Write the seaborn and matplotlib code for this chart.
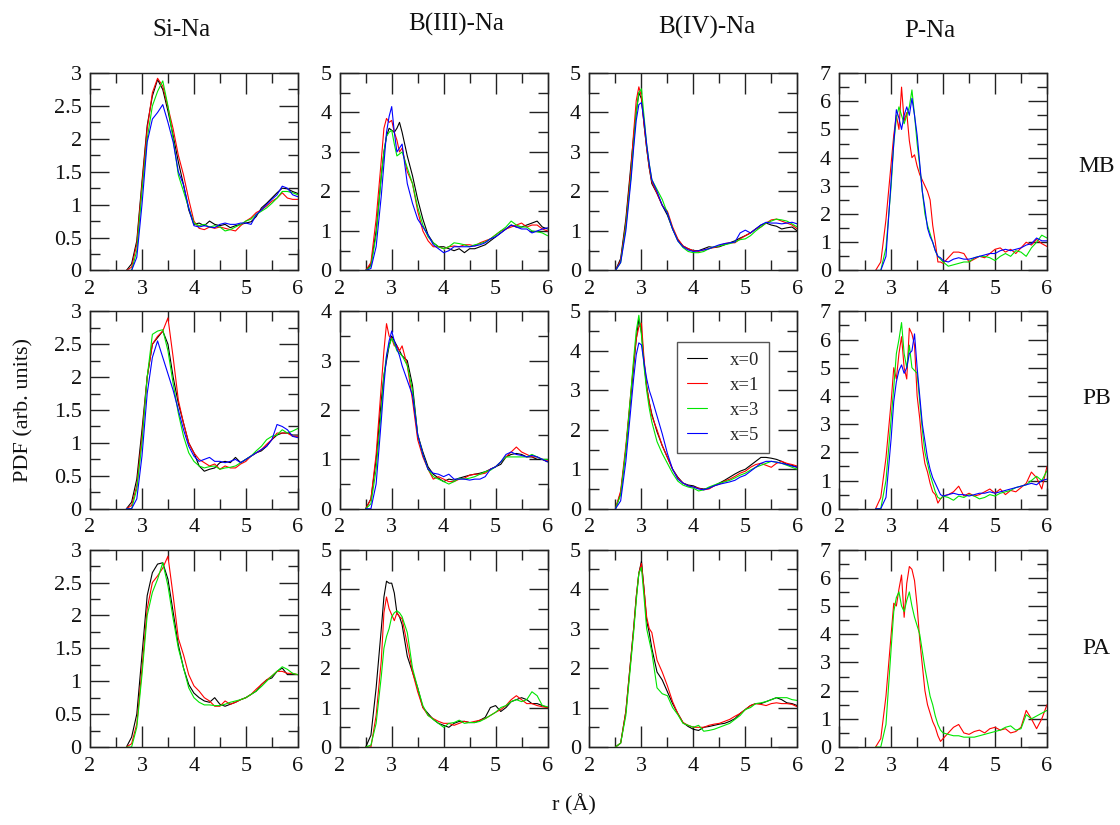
import numpy as np
import pandas as pd
import matplotlib
matplotlib.use("Agg")
import matplotlib.pyplot as plt
import seaborn as sns
from matplotlib.ticker import MultipleLocator, FuncFormatter

# ---------------- data ----------------
series_labels = ["x=0", "x=1", "x=3", "x=5"]
series_colors = ["#000000", "#ff0000", "#00e600", "#0000ff"]
col_titles = ["Si-Na", "B(III)-Na", "B(IV)-Na", "P-Na"]
row_labels = ["MB", "PB", "PA"]
x_ticks = [2, 3, 4, 5, 6]

r_si = [2.7, 2.8, 2.9, 3.0, 3.1, 3.2, 3.3, 3.4, 3.5, 3.6, 3.7, 3.8, 3.9, 4.0, 4.1, 4.2, 4.3,
        4.4, 4.5, 4.6, 4.7, 4.8, 4.9, 5.0, 5.1, 5.2, 5.3, 5.4, 5.5, 5.6, 5.7, 5.8, 5.9, 6.0]
r_b = [2.5, 2.6, 2.7, 2.8, 2.85, 2.9, 2.95, 3.0, 3.05, 3.1, 3.15, 3.2, 3.3, 3.4, 3.5, 3.6,
       3.7, 3.8, 3.9, 4.0, 4.1, 4.2, 4.3, 4.4, 4.5, 4.6, 4.7, 4.8, 4.9, 5.0, 5.1, 5.2, 5.3,
       5.4, 5.5, 5.6, 5.7, 5.8, 5.9, 6.0]
r_p = [2.7, 2.8, 2.9, 3.0, 3.05, 3.1, 3.15, 3.2, 3.25, 3.3, 3.35, 3.4, 3.45, 3.5, 3.55, 3.6,
       3.65, 3.7, 3.75, 3.8, 3.85, 3.9, 3.95, 4.0, 4.1, 4.2, 4.3, 4.4, 4.5, 4.6, 4.7, 4.8,
       4.9, 5.0, 5.1, 5.2, 5.3, 5.4, 5.5, 5.6, 5.7, 5.8, 5.9, 6.0]

# ---- MB ----
mb_si_x0 = [0, 0.1, 0.45, 1.35, 2.2, 2.65, 2.9, 2.75, 2.42, 2.05, 1.65, 1.3, 0.92, 0.7, 0.72, 0.68, 0.75,
            0.7, 0.68, 0.7, 0.65, 0.68, 0.7, 0.72, 0.74, 0.82, 0.95, 1.02, 1.1, 1.18, 1.25, 1.24, 1.2, 1.17]
mb_si_x1 = [0, 0.05, 0.4, 1.3, 2.15, 2.7, 2.92, 2.8, 2.48, 2.15, 1.75, 1.45, 1.08, 0.75, 0.64, 0.62, 0.66,
            0.64, 0.66, 0.64, 0.62, 0.6, 0.68, 0.75, 0.8, 0.88, 0.92, 0.98, 1.05, 1.1, 1.18, 1.1, 1.08, 1.08]
mb_si_x3 = [0, 0.0, 0.3, 1.2, 2.0, 2.5, 2.72, 2.88, 2.5, 2.0, 1.45, 1.2, 0.95, 0.72, 0.68, 0.7, 0.66,
            0.68, 0.66, 0.6, 0.62, 0.66, 0.7, 0.75, 0.78, 0.85, 0.9, 0.95, 1.02, 1.1, 1.2, 1.2, 1.18, 1.15]
mb_si_x5 = [0, 0.0, 0.2, 1.0, 1.95, 2.3, 2.4, 2.52, 2.25, 1.95, 1.5, 1.3, 0.95, 0.68, 0.66, 0.68, 0.66,
            0.65, 0.7, 0.72, 0.7, 0.7, 0.72, 0.72, 0.7, 0.85, 0.92, 1.0, 1.08, 1.15, 1.28, 1.25, 1.15, 1.12]

mb_b3_x0 = [0, 0.15, 1.0, 2.4, 3.0, 3.4, 3.6, 3.55, 3.5, 3.6, 3.75, 3.5, 2.9, 2.4, 1.8, 1.3, 0.9, 0.7, 0.6,
            0.6, 0.55, 0.5, 0.55, 0.45, 0.55, 0.55, 0.6, 0.65, 0.75, 0.85, 0.95, 1.05, 1.15, 1.1, 1.1, 1.15,
            1.2, 1.25, 1.1, 1.05]
mb_b3_x1 = [0, 0.2, 1.3, 2.8, 3.6, 3.85, 3.75, 3.8, 3.5, 3.3, 3.0, 3.1, 2.5, 2.2, 1.5, 1.0, 0.75, 0.6, 0.6,
            0.55, 0.6, 0.62, 0.6, 0.65, 0.65, 0.62, 0.7, 0.75, 0.8, 0.9, 1.0, 1.05, 1.1, 1.15, 1.2, 1.1,
            1.15, 1.15, 1.05, 1.0]
mb_b3_x3 = [0, 0.1, 0.9, 2.4, 3.0, 3.4, 3.5, 3.55, 3.2, 2.9, 2.95, 3.0, 2.6, 2.2, 1.6, 1.15, 0.85, 0.7, 0.6,
            0.55, 0.6, 0.7, 0.68, 0.65, 0.6, 0.65, 0.68, 0.72, 0.8, 0.9, 1.0, 1.1, 1.25, 1.15, 1.1, 1.1,
            1.0, 0.98, 0.95, 0.88]
mb_b3_x5 = [0, 0.05, 0.6, 1.9, 2.7, 3.5, 3.9, 4.15, 3.5, 3.0, 3.1, 3.2, 2.2, 1.7, 1.3, 1.1, 0.9, 0.65, 0.55,
            0.45, 0.5, 0.6, 0.6, 0.6, 0.6, 0.62, 0.65, 0.7, 0.8, 0.85, 0.95, 1.05, 1.15, 1.1, 1.05, 1.05,
            0.95, 1.0, 1.05, 1.08]

mb_b4_x0 = [0, 0.3, 1.3, 2.7, 3.4, 4.0, 4.5, 4.35, 3.7, 3.1, 2.6, 2.2, 1.95, 1.65, 1.4, 1.05, 0.78, 0.62,
            0.55, 0.5, 0.5, 0.55, 0.6, 0.58, 0.6, 0.65, 0.7, 0.75, 0.82, 0.88, 0.95, 1.05, 1.15, 1.2, 1.15,
            1.12, 1.05, 1.08, 1.1, 1.0]
mb_b4_x1 = [0, 0.25, 1.2, 2.6, 3.5, 4.3, 4.65, 4.4, 3.7, 3.1, 2.6, 2.25, 1.95, 1.65, 1.5, 1.1, 0.8, 0.62,
            0.55, 0.5, 0.48, 0.52, 0.55, 0.58, 0.62, 0.68, 0.7, 0.7, 0.8, 0.88, 0.95, 1.05, 1.1, 1.2, 1.28,
            1.3, 1.25, 1.2, 1.15, 1.05]
mb_b4_x3 = [0, 0.2, 1.1, 2.4, 3.2, 4.0, 4.5, 4.6, 3.9, 3.2, 2.7, 2.3, 2.05, 1.8, 1.45, 1.05, 0.75, 0.58,
            0.48, 0.45, 0.45, 0.48, 0.55, 0.6, 0.62, 0.65, 0.68, 0.72, 0.78, 0.8, 0.88, 1.0, 1.1, 1.2, 1.25,
            1.3, 1.28, 1.25, 1.18, 1.1]
mb_b4_x5 = [0, 0.2, 1.0, 2.3, 3.1, 3.8, 4.2, 4.25, 3.8, 3.2, 2.7, 2.3, 2.0, 1.65, 1.45, 1.05, 0.75, 0.6,
            0.52, 0.48, 0.5, 0.52, 0.55, 0.6, 0.65, 0.68, 0.7, 0.72, 0.95, 1.02, 0.95, 1.05, 1.15, 1.22,
            1.2, 1.2, 1.18, 1.2, 1.22, 1.18]

mb_p_x1 = [0, 0.3, 1.8, 3.8, 4.8, 5.5, 5.0, 6.5, 5.3, 5.6, 4.6, 4.0, 4.1, 3.7, 3.4, 3.2, 3.0, 2.8, 2.5, 1.6,
           1.0, 0.3, 0.3, 0.25, 0.45, 0.65, 0.65, 0.6, 0.3, 0.4, 0.5, 0.45, 0.6, 0.75, 0.8, 0.65, 0.75,
           0.6, 0.8, 1.0, 0.9, 1.1, 0.95, 0.85]
mb_p_x3 = [0, 0.0, 0.8, 3.0, 4.5, 5.4, 5.8, 5.5, 5.2, 5.5, 5.8, 6.4, 5.5, 4.5, 3.7, 2.8, 2.0, 1.6, 1.3, 1.0,
           0.7, 0.5, 0.4, 0.3, 0.15, 0.2, 0.25, 0.3, 0.3, 0.45, 0.5, 0.5, 0.45, 0.35, 0.5, 0.6, 0.5, 0.7,
           0.65, 0.5, 0.8, 1.0, 1.25, 1.15]
mb_p_x5 = [0, 0.0, 0.5, 3.2, 4.5, 5.7, 5.4, 5.0, 5.5, 5.8, 5.5, 6.1, 5.5, 4.8, 3.8, 2.8, 2.2, 1.5, 1.2, 1.0,
           0.7, 0.5, 0.45, 0.35, 0.3, 0.4, 0.45, 0.4, 0.4, 0.45, 0.5, 0.55, 0.6, 0.6, 0.7, 0.75, 0.7, 0.75,
           0.8, 0.9, 0.95, 1.15, 1.05, 1.05]

# ---- PB ----
pb_si_x0 = [0, 0.1, 0.45, 1.2, 2.0, 2.5, 2.6, 2.7, 2.5, 2.0, 1.6, 1.3, 1.0, 0.85, 0.65, 0.57, 0.6, 0.62,
            0.7, 0.72, 0.7, 0.78, 0.7, 0.75, 0.8, 0.85, 0.88, 0.95, 1.05, 1.12, 1.15, 1.15, 1.12, 1.12]
pb_si_x1 = [0, 0.05, 0.35, 1.1, 2.0, 2.5, 2.62, 2.7, 2.9, 2.3, 1.65, 1.3, 1.0, 0.85, 0.75, 0.7, 0.65, 0.68,
            0.6, 0.65, 0.62, 0.62, 0.68, 0.72, 0.8, 0.85, 0.9, 0.98, 1.05, 1.15, 1.15, 1.15, 1.1, 1.1]
pb_si_x3 = [0, 0.0, 0.3, 1.0, 2.0, 2.65, 2.7, 2.72, 2.4, 1.9, 1.45, 1.1, 0.85, 0.72, 0.65, 0.62, 0.64, 0.65,
            0.6, 0.62, 0.63, 0.65, 0.7, 0.75, 0.8, 0.88, 0.95, 1.05, 1.1, 1.12, 1.2, 1.15, 1.18, 1.22]
pb_si_x5 = [0, 0.0, 0.15, 0.8, 1.75, 2.3, 2.55, 2.3, 2.05, 1.8, 1.5, 1.2, 0.95, 0.8, 0.72, 0.75, 0.78, 0.72,
            0.72, 0.7, 0.72, 0.75, 0.7, 0.75, 0.8, 0.85, 0.9, 0.95, 1.05, 1.28, 1.25, 1.2, 1.1, 1.08]

pb_b3_x0 = [0, 0.2, 1.0, 2.2, 2.7, 3.0, 3.3, 3.5, 3.4, 3.3, 3.2, 3.1, 3.0, 2.5, 1.5, 1.15, 0.85, 0.7, 0.62,
            0.55, 0.6, 0.58, 0.62, 0.65, 0.68, 0.7, 0.72, 0.75, 0.8, 0.85, 0.9, 1.05, 1.1, 1.12, 1.1, 1.05,
            1.05, 1.0, 1.0, 0.95]
pb_b3_x1 = [0, 0.2, 1.1, 2.5, 3.2, 3.75, 3.5, 3.45, 3.3, 3.3, 3.2, 3.3, 2.9, 2.2, 1.4, 1.05, 0.8, 0.6, 0.65,
            0.6, 0.55, 0.55, 0.6, 0.62, 0.68, 0.7, 0.7, 0.72, 0.8, 0.85, 0.95, 1.05, 1.15, 1.25, 1.15, 1.1,
            1.05, 1.05, 1.0, 0.98]
pb_b3_x3 = [0, 0.1, 0.8, 2.0, 2.7, 3.1, 3.3, 3.45, 3.35, 3.2, 3.15, 3.1, 2.9, 2.4, 1.5, 1.1, 0.8, 0.65, 0.6,
            0.55, 0.5, 0.55, 0.62, 0.6, 0.62, 0.65, 0.7, 0.75, 0.78, 0.85, 0.95, 1.05, 1.05, 1.05, 1.05,
            1.05, 1.1, 1.05, 1.0, 1.0]
pb_b3_x5 = [0, 0.0, 0.5, 1.8, 2.5, 3.1, 3.4, 3.6, 3.4, 3.25, 3.1, 2.9, 2.6, 2.3, 1.5, 1.1, 0.8, 0.72, 0.7,
            0.65, 0.7, 0.6, 0.6, 0.6, 0.58, 0.6, 0.6, 0.65, 0.8, 0.85, 0.95, 1.1, 1.15, 1.1, 1.08, 1.05,
            1.08, 1.05, 1.0, 0.95]

pb_b4_x0 = [0, 0.4, 1.5, 2.9, 3.6, 4.3, 4.8, 4.5, 3.7, 3.1, 2.7, 2.4, 1.95, 1.6, 1.3, 1.0, 0.8, 0.65, 0.6,
            0.58, 0.52, 0.5, 0.52, 0.58, 0.65, 0.72, 0.8, 0.88, 0.95, 1.0, 1.1, 1.2, 1.3, 1.3, 1.28, 1.25,
            1.2, 1.12, 1.1, 1.05]
pb_b4_x1 = [0, 0.45, 1.6, 3.0, 3.7, 4.3, 4.6, 4.7, 3.8, 3.1, 2.7, 2.35, 2.0, 1.6, 1.3, 1.0, 0.78, 0.65, 0.58,
            0.55, 0.52, 0.48, 0.5, 0.58, 0.62, 0.7, 0.75, 0.82, 0.9, 0.95, 1.05, 1.12, 1.15, 1.1, 1.05,
            1.15, 1.2, 1.15, 1.12, 1.08]
pb_b4_x3 = [0, 0.35, 1.5, 3.0, 3.8, 4.5, 4.9, 4.4, 3.6, 3.0, 2.55, 2.2, 1.7, 1.4, 1.15, 0.9, 0.7, 0.6, 0.55,
            0.52, 0.45, 0.48, 0.55, 0.6, 0.65, 0.68, 0.72, 0.78, 0.85, 0.9, 0.98, 1.05, 1.1, 1.15, 1.2,
            1.18, 1.15, 1.1, 1.05, 1.0]
pb_b4_x5 = [0, 0.2, 1.2, 2.6, 3.3, 3.9, 4.2, 4.15, 3.7, 3.3, 3.0, 2.8, 2.35, 1.9, 1.4, 1.0, 0.75, 0.65,
            0.58, 0.55, 0.5, 0.48, 0.52, 0.58, 0.62, 0.65, 0.68, 0.72, 0.8, 0.85, 0.95, 1.05, 1.15, 1.2,
            1.2, 1.18, 1.15, 1.12, 1.08, 1.05]

pb_p_x1 = [0, 0.4, 1.8, 3.8, 5.0, 4.6, 5.5, 6.1, 5.0, 4.6, 6.4, 6.2, 5.8, 4.0, 3.2, 2.2, 1.6, 1.3, 0.9, 0.6,
           0.5, 0.2, 0.35, 0.45, 0.5, 0.6, 0.8, 0.45, 0.55, 0.45, 0.5, 0.6, 0.7, 0.55, 0.7, 0.5, 0.65,
           0.6, 0.75, 0.9, 1.3, 1.1, 0.7, 1.5]
pb_p_x3 = [0, 0.0, 1.0, 3.2, 4.3, 5.5, 6.0, 6.6, 5.5, 5.0, 5.8, 5.0, 4.9, 4.8, 3.8, 2.8, 2.0, 1.6, 1.2, 0.9,
           0.6, 0.4, 0.35, 0.45, 0.4, 0.3, 0.45, 0.4, 0.5, 0.45, 0.35, 0.4, 0.5, 0.45, 0.55, 0.6, 0.65,
           0.75, 0.8, 0.85, 1.0, 1.15, 1.0, 1.35]
pb_p_x5 = [0, 0.0, 0.4, 2.5, 3.8, 4.5, 4.9, 5.1, 4.8, 5.0, 5.5, 5.6, 6.2, 5.0, 4.0, 3.0, 2.4, 1.8, 1.4, 1.1,
           0.9, 0.7, 0.5, 0.45, 0.5, 0.55, 0.5, 0.5, 0.45, 0.5, 0.55, 0.55, 0.6, 0.55, 0.6, 0.65, 0.7,
           0.75, 0.8, 0.85, 0.9, 0.85, 1.0, 1.05]

# ---- PA ----
pa_si_x0 = [0, 0.15, 0.5, 1.4, 2.3, 2.65, 2.78, 2.8, 2.55, 2.05, 1.55, 1.2, 0.95, 0.82, 0.75, 0.7, 0.68, 0.75,
            0.65, 0.62, 0.65, 0.68, 0.72, 0.75, 0.8, 0.85, 0.95, 1.02, 1.05, 1.15, 1.2, 1.1, 1.1, 1.1]
pa_si_x1 = [0, 0.05, 0.35, 1.2, 2.1, 2.5, 2.6, 2.72, 2.9, 2.3, 1.65, 1.4, 1.1, 0.93, 0.85, 0.75, 0.7, 0.62,
            0.62, 0.7, 0.65, 0.68, 0.72, 0.75, 0.8, 0.88, 0.95, 1.02, 1.08, 1.15, 1.15, 1.12, 1.12, 1.1]
pa_si_x3 = [0, 0.0, 0.3, 1.1, 2.0, 2.35, 2.55, 2.8, 2.45, 1.95, 1.5, 1.2, 0.9, 0.75, 0.68, 0.64, 0.64, 0.63,
            0.63, 0.65, 0.68, 0.7, 0.72, 0.75, 0.8, 0.85, 0.92, 1.0, 1.08, 1.15, 1.22, 1.18, 1.12, 1.1]

pa_b3_x0 = [0, 0.3, 1.5, 3.0, 3.8, 4.2, 4.15, 4.15, 3.9, 3.4, 3.3, 3.1, 2.3, 1.9, 1.5, 1.0, 0.85, 0.7, 0.6,
            0.55, 0.5, 0.6, 0.65, 0.65, 0.62, 0.62, 0.68, 0.75, 1.0, 1.05, 0.9, 1.0, 1.15, 1.2, 1.25, 1.2,
            1.1, 1.1, 1.05, 1.0]
pa_b3_x1 = [0, 0.0, 0.8, 2.2, 3.4, 3.8, 3.5, 3.35, 3.2, 3.4, 3.3, 3.25, 2.6, 1.9, 1.4, 1.0, 0.8, 0.72, 0.65,
            0.6, 0.6, 0.55, 0.6, 0.65, 0.62, 0.65, 0.68, 0.72, 0.8, 0.88, 0.95, 1.05, 1.2, 1.3, 1.2, 1.1,
            1.1, 1.05, 1.02, 1.0]
pa_b3_x3 = [0, 0.05, 0.6, 1.8, 2.5, 2.8, 3.0, 3.3, 3.4, 3.45, 3.4, 3.3, 2.9, 2.0, 1.5, 1.05, 0.8, 0.7, 0.6,
            0.5, 0.6, 0.62, 0.68, 0.6, 0.62, 0.62, 0.65, 0.72, 0.8, 0.88, 1.0, 1.05, 1.15, 1.2, 1.15, 1.2,
            1.4, 1.3, 1.05, 1.02]

pa_b4_x0 = [0, 0.1, 0.9, 2.3, 3.0, 3.8, 4.4, 4.7, 4.0, 3.2, 2.9, 2.5, 1.9, 1.7, 1.4, 1.1, 0.85, 0.62, 0.52,
            0.45, 0.42, 0.5, 0.52, 0.55, 0.58, 0.6, 0.65, 0.72, 0.85, 0.95, 1.05, 1.1, 1.1, 1.15, 1.2, 1.25,
            1.2, 1.12, 1.1, 1.05]
pa_b4_x1 = [0, 0.1, 0.9, 2.3, 3.0, 3.8, 4.4, 4.65, 4.0, 3.3, 3.0, 2.9, 2.2, 1.9, 1.55, 1.15, 0.85, 0.62,
            0.55, 0.5, 0.5, 0.5, 0.55, 0.58, 0.6, 0.65, 0.7, 0.78, 0.85, 0.95, 1.05, 1.1, 1.08, 1.05, 1.1,
            1.12, 1.1, 1.1, 1.08, 1.02]
pa_b4_x3 = [0, 0.1, 0.8, 2.2, 2.9, 3.7, 4.4, 4.55, 3.8, 3.0, 2.7, 2.4, 1.5, 1.35, 1.3, 1.0, 0.82, 0.6, 0.55,
            0.5, 0.55, 0.4, 0.42, 0.45, 0.5, 0.55, 0.6, 0.7, 0.8, 0.95, 1.0, 1.1, 1.12, 1.15, 1.2, 1.25,
            1.25, 1.25, 1.2, 1.18]

pa_p_x1 = [0, 0.3, 1.8, 4.0, 5.1, 5.0, 5.6, 6.1, 4.6, 5.8, 6.4, 6.3, 5.9, 5.0, 3.8, 2.9, 2.0, 1.5, 1.2, 0.9,
           0.7, 0.4, 0.2, 0.3, 0.5, 0.7, 0.8, 0.5, 0.45, 0.55, 0.6, 0.5, 0.65, 0.7, 0.6, 0.65, 0.5, 0.55,
           0.7, 1.3, 1.0, 0.65, 1.0, 1.5]
pa_p_x3 = [0, 0.0, 0.8, 3.5, 4.8, 5.3, 5.5, 5.0, 4.8, 5.2, 5.5, 5.0, 4.6, 4.3, 4.0, 3.4, 2.8, 2.3, 1.8, 1.5,
           1.1, 0.8, 0.6, 0.5, 0.45, 0.4, 0.4, 0.35, 0.35, 0.35, 0.4, 0.45, 0.5, 0.55, 0.6, 0.7, 0.75, 0.6,
           0.65, 1.15, 1.0, 1.1, 1.2, 1.3]

y_max = [[3, 5, 5, 7],
         [3, 4, 5, 7],
         [3, 5, 5, 7]]

panels = [
    [(r_si, {"x=0": mb_si_x0, "x=1": mb_si_x1, "x=3": mb_si_x3, "x=5": mb_si_x5}),
     (r_b, {"x=0": mb_b3_x0, "x=1": mb_b3_x1, "x=3": mb_b3_x3, "x=5": mb_b3_x5}),
     (r_b, {"x=0": mb_b4_x0, "x=1": mb_b4_x1, "x=3": mb_b4_x3, "x=5": mb_b4_x5}),
     (r_p, {"x=1": mb_p_x1, "x=3": mb_p_x3, "x=5": mb_p_x5})],
    [(r_si, {"x=0": pb_si_x0, "x=1": pb_si_x1, "x=3": pb_si_x3, "x=5": pb_si_x5}),
     (r_b, {"x=0": pb_b3_x0, "x=1": pb_b3_x1, "x=3": pb_b3_x3, "x=5": pb_b3_x5}),
     (r_b, {"x=0": pb_b4_x0, "x=1": pb_b4_x1, "x=3": pb_b4_x3, "x=5": pb_b4_x5}),
     (r_p, {"x=1": pb_p_x1, "x=3": pb_p_x3, "x=5": pb_p_x5})],
    [(r_si, {"x=0": pa_si_x0, "x=1": pa_si_x1, "x=3": pa_si_x3}),
     (r_b, {"x=0": pa_b3_x0, "x=1": pa_b3_x1, "x=3": pa_b3_x3}),
     (r_b, {"x=0": pa_b4_x0, "x=1": pa_b4_x1, "x=3": pa_b4_x3}),
     (r_p, {"x=1": pa_p_x1, "x=3": pa_p_x3})],
]

# ---------------- style ----------------
sns.set_style("ticks")
plt.rcParams["font.family"] = ["Liberation Serif", "DejaVu Serif"]

palette = dict(zip(series_labels, series_colors))

fig, axes = plt.subplots(3, 4, figsize=(11.2, 8.25), dpi=100)
fig.subplots_adjust(left=0.0804, right=0.9348, top=0.9115, bottom=0.0945,
                    wspace=0.202, hspace=0.207)

fmt = FuncFormatter(lambda v, p: "%g" % v)

for i in range(3):
    for j in range(4):
        ax = axes[i][j]
        r, series = panels[i][j]
        frames = []
        for lab, vals in series.items():
            frames.append(pd.DataFrame({"r": r, "g": vals, "x": lab}))
        df = pd.concat(frames, ignore_index=True)
        order = [s for s in series_labels if s in series]
        sns.lineplot(data=df, x="r", y="g", hue="x", hue_order=order, palette=palette,
                     ax=ax, legend=False, estimator=None, sort=False, lw=0.8)
        ax.set_xlabel("")
        ax.set_ylabel("")
        ax.set_xlim(2, 6)
        ym = y_max[i][j]
        ax.set_ylim(0, ym)
        ax.set_xticks(x_ticks)
        ax.xaxis.set_minor_locator(MultipleLocator(0.5))
        if ym == 3:
            ax.yaxis.set_major_locator(MultipleLocator(0.5))
            ax.yaxis.set_minor_locator(MultipleLocator(0.25))
        else:
            ax.yaxis.set_major_locator(MultipleLocator(1))
            ax.yaxis.set_minor_locator(MultipleLocator(0.5))
        ax.yaxis.set_major_formatter(fmt)
        ax.xaxis.set_major_formatter(fmt)
        ax.tick_params(axis="both", which="both", direction="in", top=True, right=True,
                       width=1.0, color="#222222", labelsize=16, labelcolor="#111111")
        ax.tick_params(axis="x", which="major", length=15, pad=7)
        ax.tick_params(axis="y", which="major", length=13.7, pad=6)
        ax.tick_params(axis="both", which="minor", length=7)
        for s in ax.spines.values():
            s.set_visible(True)
            s.set_linewidth(1.0)
            s.set_color("#222222")

# column titles
title_pos = [(0.442, 1.19), (0.5625, 1.217), (0.5625, 1.20), (0.4375, 1.18)]
for j, t in enumerate(col_titles):
    axes[0][j].text(title_pos[j][0], title_pos[j][1], t, transform=axes[0][j].transAxes,
                    ha="center", va="baseline", fontsize=18, color="#111111")

# row labels
row_pos = [0.525, 0.56, 0.50]
for i, t in enumerate(row_labels):
    axes[i][3].text(1.24, row_pos[i], t, transform=axes[i][3].transAxes,
                    ha="center", va="center", fontsize=17, color="#111111")

fig.text(24 / 1120, 1 - 410 / 825, "PDF (arb. units)", rotation=90, ha="center", va="center",
         fontsize=16, color="#111111")
fig.text(574 / 1120, 1 - 805 / 825, "r (Å)", ha="center", va="center", fontsize=16,
         color="#111111")

# legend in PB / B(IV)-Na panel
lax = axes[1][2]
handles = lax.get_lines()[:4]
leg = lax.legend(handles, series_labels, loc="upper left", bbox_to_anchor=(0.423, 0.843),
                 borderaxespad=0, frameon=True, fancybox=False, framealpha=1,
                 edgecolor="#555555", fontsize=13.5, handlelength=1.1, handletextpad=1.2,
                 labelspacing=0.42, borderpad=0.5)
leg.get_frame().set_linewidth(1.0)

fig.savefig("out.png", dpi=100)
